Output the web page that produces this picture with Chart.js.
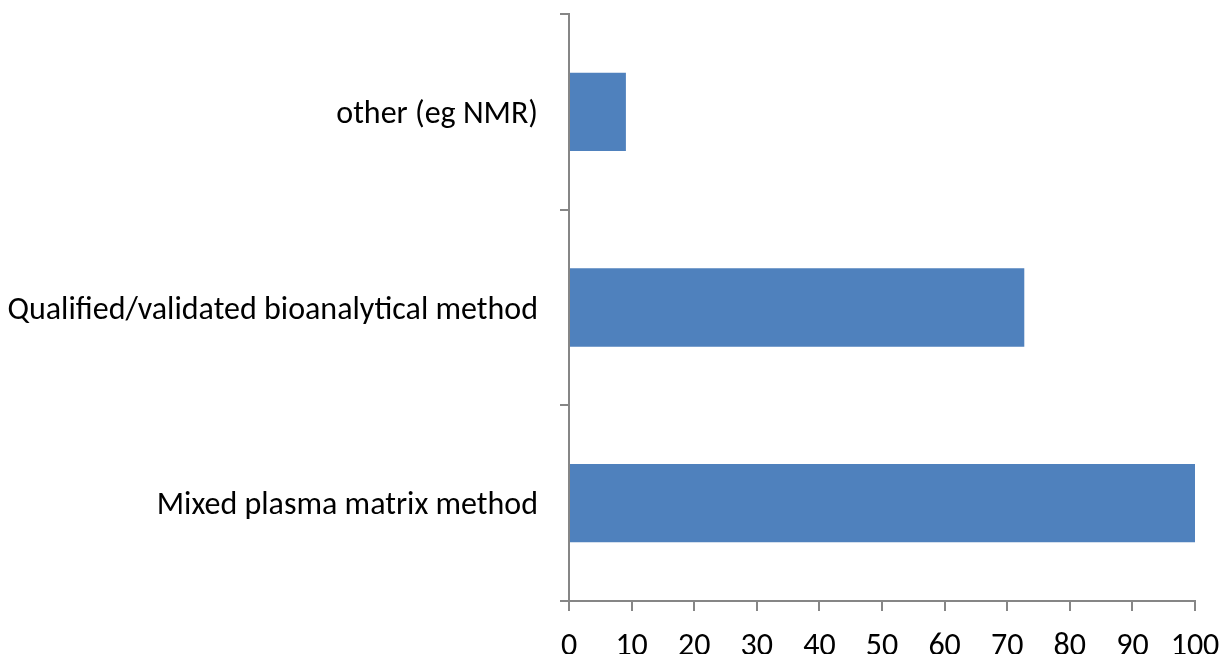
<!DOCTYPE html>
<html>
<head>
<meta charset="utf-8">
<script src="https://cdn.jsdelivr.net/npm/chart.js@4/dist/chart.umd.min.js"></script>
<style>
  html, body { margin: 0; padding: 0; background: #fff; }
  #wrap { width: 1222px; height: 654px; position: relative; }
</style>
</head>
<body>
<div id="wrap"><canvas id="c"></canvas></div>
<script>
// Categories, top to bottom
const categories = ['other (eg NMR)', 'Qualified/validated bioanalytical method', 'Mixed plasma matrix method'];
// Share of respondents (%)
const values = [9.09, 72.73, 100];
const xTicks = [0, 10, 20, 30, 40, 50, 60, 70, 80, 90, 100];

const axisGray = '#868686';
const fontFamily = "Carlito, 'Open Sans', sans-serif";

// Keep the plot area fixed: drop the automatic label overhang padding
function clearPadding(s) {
  s.paddingTop = 0; s.paddingBottom = 0; s.paddingLeft = 0; s.paddingRight = 0;
}

new Chart(document.getElementById('c'), {
  type: 'bar',
  data: {
    labels: categories,
    datasets: [{
      data: values,
      backgroundColor: '#4F81BD',
      borderWidth: 0,
      categoryPercentage: 1.0,
      barPercentage: 0.4
    }]
  },
  options: {
    indexAxis: 'y',
    responsive: true,
    maintainAspectRatio: false,
    animation: false,
    layout: { padding: { top: 14, right: 27, left: 0, bottom: 0 } },
    plugins: { legend: { display: false }, tooltip: { enabled: false } },
    scales: {
      x: {
        min: 0,
        max: 100,
        afterBuildTicks: (s) => { s.ticks = xTicks.map(v => ({ value: v })); },
        afterFit: (s) => { s.height = 53; clearPadding(s); },
        border: { display: true, color: axisGray, width: 2 },
        grid: { drawOnChartArea: false, drawTicks: true, tickLength: 10, color: axisGray, lineWidth: 2 },
        ticks: { color: '#000', padding: 17, maxRotation: 0, autoSkip: false,
                 font: { family: fontFamily, size: 32 } }
      },
      y: {
        afterFit: (s) => { s.width = 569; clearPadding(s); },
        border: { display: true, color: axisGray, width: 2 },
        grid: { drawOnChartArea: false, drawTicks: true, tickLength: 9, color: axisGray, lineWidth: 2, offset: true },
        ticks: { color: '#000', padding: 22, labelOffset: 3, autoSkip: false,
                 font: { family: fontFamily, size: 32 } }
      }
    }
  }
});
</script>
</body>
</html>
